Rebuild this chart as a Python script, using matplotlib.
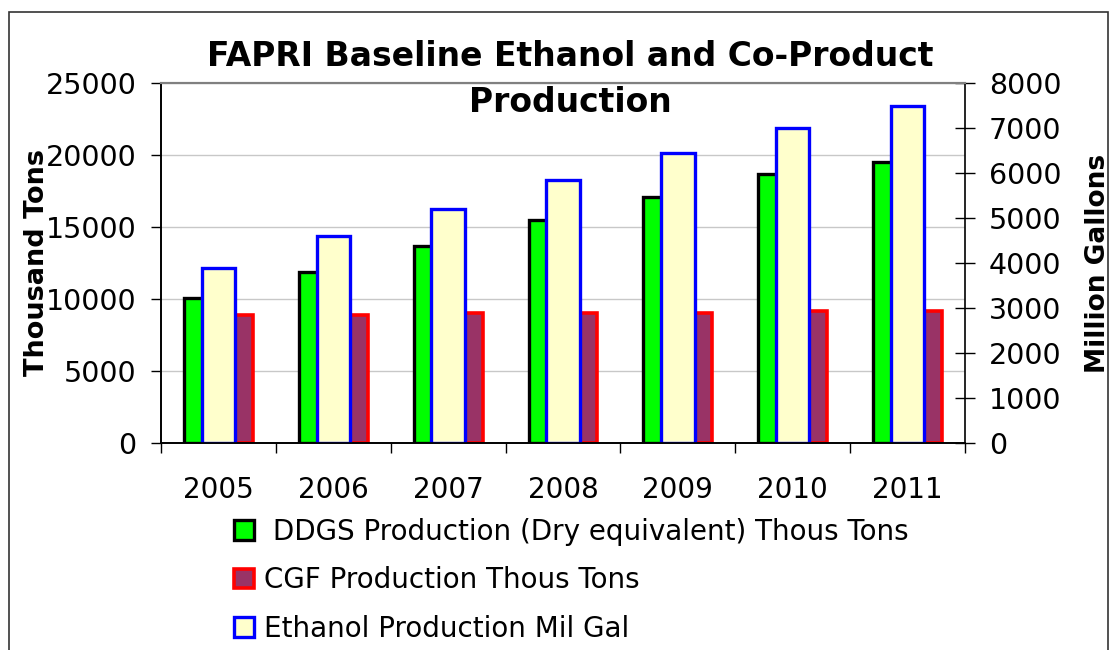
import numpy as np
import matplotlib
matplotlib.use("Agg")
import matplotlib.pyplot as plt
from matplotlib.patches import Rectangle

plt.rcParams['font.family'] = ['DejaVu Sans']

# data
years = ["2005", "2006", "2007", "2008", "2009", "2010", "2011"]
ddgs = [10100, 11900, 13700, 15500, 17100, 18650, 19500]     # thousand tons
cgf = [8870, 8870, 9030, 9000, 9030, 9150, 9150]             # thousand tons
ethanol = [3900, 4600, 5200, 5850, 6450, 7000, 7480]         # million gallons

W, H = 1117, 650
fig = plt.figure(figsize=(W / 100, H / 100), dpi=100)
ax = fig.add_axes([161 / W, 1 - 443 / H, (965 - 161) / W, (443 - 83) / H])
ax2 = ax.twinx()

x = np.arange(len(years))
bw = 0.29
off = 0.155

b1 = ax.bar(x - off, ddgs, bw, color="#00FF00", edgecolor="black", linewidth=2.4, zorder=2)
b2 = ax.bar(x + off, cgf, bw, color="#993366", edgecolor="#FF0000", linewidth=2.6, zorder=2)
b3 = ax2.bar(x, ethanol, bw, color="#FFFFCC", edgecolor="#0000FF", linewidth=2.4, zorder=2)

ax.set_xlim(-0.5, len(years) - 0.5)
ax.set_ylim(0, 25000)
ax2.set_ylim(0, 8000)
ax.set_yticks(np.arange(0, 25001, 5000))
ax2.set_yticks(np.arange(0, 8001, 1000))
ax.yaxis.grid(True, color="#c8c8c8", linewidth=1)
ax.set_axisbelow(True)

ax.set_xticks(x)
ax.set_xticklabels(years)
ax.set_xticks(np.arange(-0.5, len(years)), minor=True)
ax.tick_params(axis="x", which="major", length=0, pad=24, labelsize=20)
ax.tick_params(axis="x", which="minor", length=7.5, width=1, direction="out")
ax.tick_params(axis="y", length=7.5, width=1, direction="out", pad=10, labelsize=20.5)
ax2.tick_params(axis="y", length=14.5, width=1, direction="inout", pad=10, labelsize=20.5)

for a in (ax, ax2):
    a.spines["top"].set_color("#808080")
    a.spines["top"].set_linewidth(1.5)
    a.spines["left"].set_linewidth(1.2)
    a.spines["bottom"].set_linewidth(1.2)
    a.spines["right"].set_linewidth(1.2)
ax.spines["right"].set_visible(False)

ax.set_ylabel("Thousand Tons", fontsize=19.5, fontweight="bold")
ax2.set_ylabel("Million Gallons", fontsize=19, fontweight="bold")
ax.yaxis.set_label_coords(-111 / 804, 0.5)
ax2.yaxis.set_label_coords(1 + 120 / 804, 0.5)

fig.text(570 / W, 1 - 57 / H, "FAPRI Baseline Ethanol and Co-Product", ha="center", va="center",
         fontsize=23.8, fontweight="bold")
fig.text(570 / W, 1 - 103 / H, "Production", ha="center", va="center",
         fontsize=23.8, fontweight="bold")

fig.legend([b1, b2, b3],
           [" DDGS Production (Dry equivalent) Thous Tons", "CGF Production Thous Tons",
            "Ethanol Production Mil Gal"],
           loc="upper left", bbox_to_anchor=(234 / W, 1 - 518 / H), frameon=False,
           fontsize=20, handlelength=0.72, handleheight=0.72, handletextpad=0.35,
           labelspacing=0.73, borderpad=0, borderaxespad=0)

fig.patches.append(Rectangle((9 / W, -0.05), (1108 - 9) / W, 1.05 - 12 / H, transform=fig.transFigure,
                             fill=False, edgecolor="#333333", linewidth=1.2))

fig.savefig("out.png", dpi=100)
